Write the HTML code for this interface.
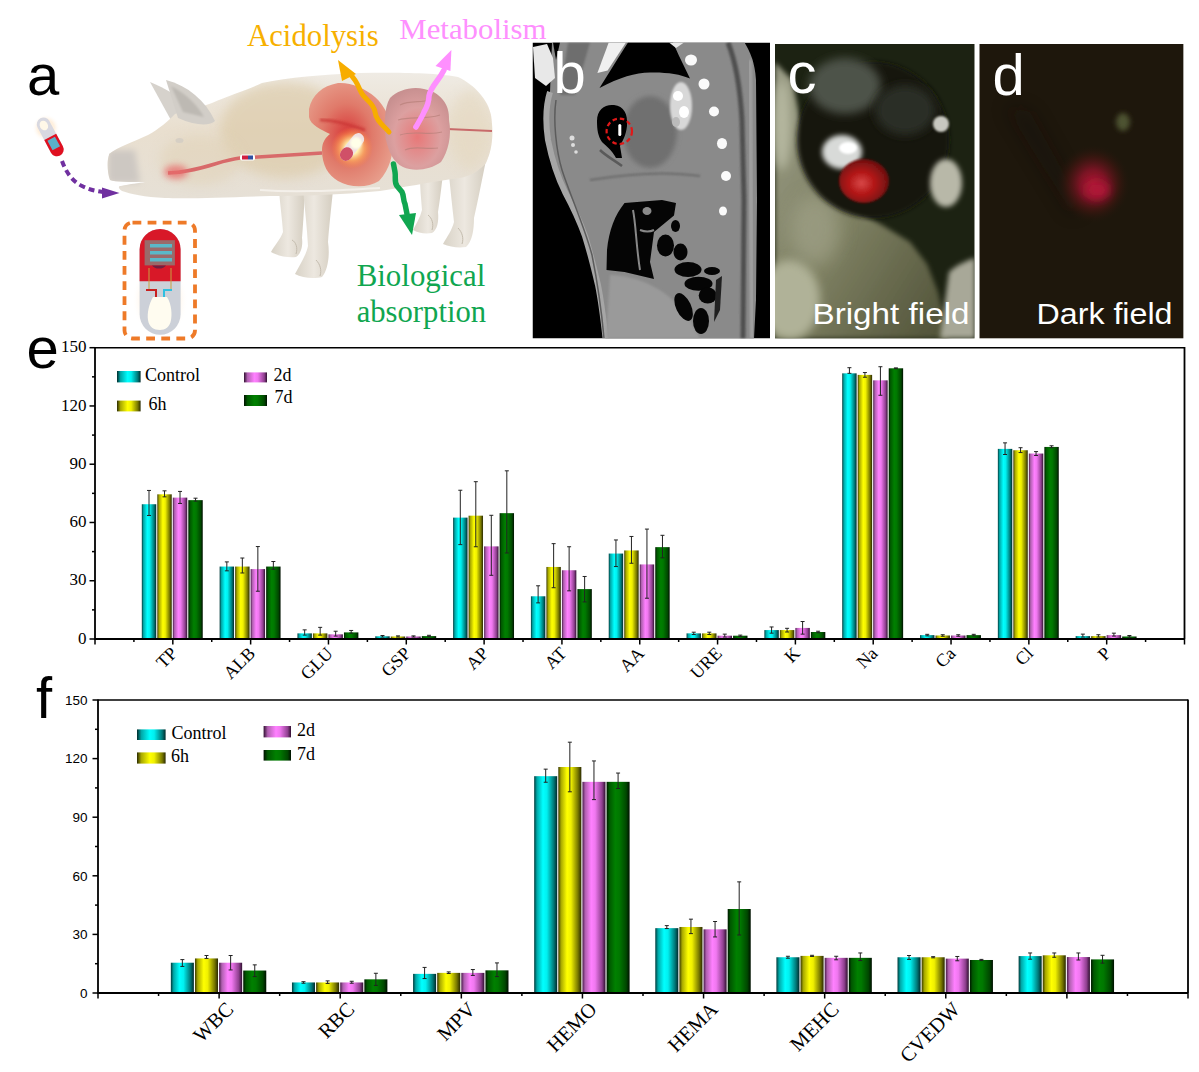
<!DOCTYPE html>
<html><head><meta charset="utf-8"><style>
html,body{margin:0;padding:0;background:#fff;overflow:hidden;}
svg{display:block;}
</style></head><body>
<svg width="1199" height="1072" viewBox="0 0 1199 1072">
<defs>
<linearGradient id="barc" x1="0" x2="1" y1="0" y2="0"><stop offset="0" stop-color="#003a3a"/><stop offset="0.12" stop-color="#00a8a8"/><stop offset="0.38" stop-color="#00ffff"/><stop offset="0.55" stop-color="#00f0f0"/><stop offset="0.85" stop-color="#007878"/><stop offset="1" stop-color="#002a2a"/></linearGradient><linearGradient id="legc" x1="0" x2="1" y1="0" y2="0"><stop offset="0" stop-color="#002a2a"/><stop offset="0.15" stop-color="#00a8a8"/><stop offset="0.45" stop-color="#00ffff"/><stop offset="0.6" stop-color="#00f0f0"/><stop offset="0.88" stop-color="#007878"/><stop offset="1" stop-color="#002a2a"/></linearGradient><linearGradient id="bary" x1="0" x2="1" y1="0" y2="0"><stop offset="0" stop-color="#3a3a00"/><stop offset="0.12" stop-color="#a8a800"/><stop offset="0.38" stop-color="#ffff00"/><stop offset="0.55" stop-color="#f0f000"/><stop offset="0.85" stop-color="#787800"/><stop offset="1" stop-color="#2a2a00"/></linearGradient><linearGradient id="legy" x1="0" x2="1" y1="0" y2="0"><stop offset="0" stop-color="#2a2a00"/><stop offset="0.15" stop-color="#a8a800"/><stop offset="0.45" stop-color="#ffff00"/><stop offset="0.6" stop-color="#f0f000"/><stop offset="0.88" stop-color="#787800"/><stop offset="1" stop-color="#2a2a00"/></linearGradient><linearGradient id="barp" x1="0" x2="1" y1="0" y2="0"><stop offset="0" stop-color="#4a1a4a"/><stop offset="0.12" stop-color="#b060b0"/><stop offset="0.38" stop-color="#ff80ff"/><stop offset="0.55" stop-color="#f078f0"/><stop offset="0.85" stop-color="#904090"/><stop offset="1" stop-color="#301030"/></linearGradient><linearGradient id="legp" x1="0" x2="1" y1="0" y2="0"><stop offset="0" stop-color="#301030"/><stop offset="0.15" stop-color="#b060b0"/><stop offset="0.45" stop-color="#ff80ff"/><stop offset="0.6" stop-color="#f078f0"/><stop offset="0.88" stop-color="#904090"/><stop offset="1" stop-color="#301030"/></linearGradient><linearGradient id="barg" x1="0" x2="1" y1="0" y2="0"><stop offset="0" stop-color="#001800"/><stop offset="0.12" stop-color="#005800"/><stop offset="0.38" stop-color="#008000"/><stop offset="0.55" stop-color="#007800"/><stop offset="0.85" stop-color="#004800"/><stop offset="1" stop-color="#001000"/></linearGradient><linearGradient id="legg" x1="0" x2="1" y1="0" y2="0"><stop offset="0" stop-color="#001000"/><stop offset="0.15" stop-color="#005800"/><stop offset="0.45" stop-color="#008000"/><stop offset="0.6" stop-color="#007800"/><stop offset="0.88" stop-color="#004800"/><stop offset="1" stop-color="#001000"/></linearGradient>
</defs>
<rect width="1199" height="1072" fill="#fff"/>
<defs>
<linearGradient id="pigbody" x1="0" y1="0" x2="0" y2="1">
<stop offset="0" stop-color="#efebe4"/><stop offset="0.45" stop-color="#e9dfcf"/><stop offset="1" stop-color="#e6e0d6"/></linearGradient>
<linearGradient id="pigleg" x1="0" y1="0" x2="1" y2="0">
<stop offset="0" stop-color="#d8d2c6"/><stop offset="0.5" stop-color="#ede8e0"/><stop offset="1" stop-color="#d4cdc0"/></linearGradient>
<radialGradient id="stom" cx="0.45" cy="0.5" r="0.6">
<stop offset="0" stop-color="#d83838"/><stop offset="0.5" stop-color="#e07a6a"/><stop offset="1" stop-color="#e8a08e"/></radialGradient>
<radialGradient id="intes" cx="0.5" cy="0.6" r="0.6">
<stop offset="0" stop-color="#e87878"/><stop offset="0.6" stop-color="#dca0a0"/><stop offset="1" stop-color="#c89090"/></radialGradient>
<radialGradient id="glow" cx="0.5" cy="0.5" r="0.5">
<stop offset="0" stop-color="#fffff0"/><stop offset="0.3" stop-color="#fff4b0"/><stop offset="0.6" stop-color="#ffb060" stop-opacity="0.7"/><stop offset="1" stop-color="#ff8040" stop-opacity="0"/></radialGradient>
<radialGradient id="capglow" cx="0.5" cy="0.5" r="0.5">
<stop offset="0" stop-color="#fff0d8"/><stop offset="0.6" stop-color="#ffe8cc" stop-opacity="0.6"/><stop offset="1" stop-color="#fff" stop-opacity="0"/></radialGradient>
<filter id="pblur1" x="-20%" y="-20%" width="140%" height="140%"><feGaussianBlur stdDeviation="1"/></filter>
<filter id="pblur3" x="-50%" y="-50%" width="200%" height="200%"><feGaussianBlur stdDeviation="3"/></filter>
<filter id="pblur6" x="-50%" y="-50%" width="200%" height="200%"><feGaussianBlur stdDeviation="6"/></filter>
<clipPath id="pigclip"><path id="pigpath" d="M109 154 C118 147 133 142 148 135 C159 129 168 121 175 114 L181 112 C195 110 205 105 212 103 C230 95 250 89 262 83 C290 77 320 75 360 73 C400 72 440 73 458 77 C475 85 488 100 491 115 C494 135 492 150 486 163 C478 172 470 176 460 178 C430 182 400 188 380 191 C340 195 300 196 270 196 C230 197 190 199 165 198 C145 197 130 194 122 191 C118 188 118 186 121 186 C130 184 140 183 145 182 C130 182 115 182 110 180 C107 172 107 160 109 155 Z"/></clipPath>
</defs>
<text x="27" y="94.6" style="font-family:'Liberation Sans',sans-serif;font-size:58px;fill:#000;">a</text>
<!-- legs -->
<path d="M279 190 L305 190 C304 210 303 225 302 238 C303 246 301 254 296 257 C288 258 278 256 271 252 C274 246 280 240 283 232 C282 218 280 204 279 190 Z" fill="url(#pigleg)"/>
<path d="M303 190 L333 190 C331 210 329 228 328 242 C330 255 328 270 322 277 C314 279 302 278 295 274 C299 266 306 256 308 246 C307 228 305 210 303 190 Z" fill="url(#pigleg)"/>
<path d="M420 176 L443 174 C441 190 440 200 438 212 C439 222 437 230 432 233 C425 234 418 233 413 230 C416 224 420 218 422 210 C421 198 420 188 420 176 Z" fill="url(#pigleg)"/>
<path d="M448 165 L486 160 C482 180 478 200 474 218 C474 230 472 242 466 247 C458 248 450 247 443 244 C447 237 452 230 454 222 C452 205 450 185 448 165 Z" fill="url(#pigleg)"/>
<g stroke="#c4bcae" stroke-width="1" fill="none">
<path d="M292 240 C296 242 298 248 296 254"/><path d="M316 260 C320 264 322 270 320 276"/>
<path d="M428 215 C432 218 434 224 432 230"/><path d="M458 228 C462 232 464 238 462 244"/>
</g>
<!-- ears back -->
<path d="M172 122 L150 82 C165 88 182 98 198 112 Z" fill="#d6d2cc"/>
<!-- body -->
<use href="#pigpath" fill="url(#pigbody)"/>
<g clip-path="url(#pigclip)">
<ellipse cx="285" cy="130" rx="65" ry="48" fill="#dccaa8" opacity="0.65" filter="url(#pblur6)"/>
<ellipse cx="200" cy="160" rx="40" ry="25" fill="#e0d0b4" opacity="0.5" filter="url(#pblur6)"/>
<ellipse cx="470" cy="130" rx="20" ry="40" fill="#e4d8c0" opacity="0.6" filter="url(#pblur6)"/>
<path d="M108 150 L135 150 L140 183 L108 183 Z" fill="#cdc8c2" filter="url(#pblur3)"/>
<path d="M168 173 C200 172 220 160 240 158 L322 153" stroke="#d86a6a" stroke-width="3.5" fill="none"/>
<ellipse cx="176" cy="172" rx="12" ry="7" fill="#e86a6a" opacity="0.75" filter="url(#pblur3)"/>
<path d="M447 129 L492 131" stroke="#c86a6a" stroke-width="2" fill="none"/>
<path d="M260 190 C300 193 340 190 380 188" stroke="#f4f0ea" stroke-width="2" fill="none"/>
</g>
<!-- front ear -->
<path d="M178 118 L166 80 C188 86 205 100 215 121 C210 126 196 126 178 118 Z" fill="#d2cec8"/>
<path d="M183 112 L171 86 C187 94 198 106 204 117 Z" fill="#bdb9b3" filter="url(#pblur1)"/>
<ellipse cx="179.5" cy="140.5" rx="4" ry="2.5" fill="#d6cfc4"/>
<!-- small capsule on esophagus -->
<rect x="240" y="154.5" width="15" height="6" rx="2" fill="#fff"/>
<rect x="242" y="155.5" width="6" height="4" fill="#d02040"/>
<rect x="248" y="155.5" width="5" height="4" fill="#3050a0"/>
<!-- stomach -->
<path d="M309 109 C312 95 322 86 338 83 C350 82 365 88 375 97 C385 106 392 120 393 138 C394 152 390 170 379 181 C368 188 350 188 338 181 C328 175 322 165 322 150 C322 142 326 137 330 134 C322 130 310 125 309 117 Z" fill="url(#stom)"/>
<path d="M320 120 C335 120 350 125 365 130" stroke="#c83030" stroke-width="3" fill="none" filter="url(#pblur1)" opacity="0.7"/>
<!-- intestines -->
<path d="M390 98 C398 90 412 86 424 89 C440 92 450 104 449 120 C452 136 448 152 441 162 C430 170 414 172 403 167 C393 162 389 152 386 140 C384 125 384 108 390 98 Z" fill="url(#intes)"/>
<g stroke="#b8807a" stroke-width="1.2" fill="none" opacity="0.7">
<path d="M400 105 C410 100 420 103 430 100"/><path d="M398 120 C410 116 425 120 440 115"/><path d="M400 135 C415 130 428 136 442 132"/><path d="M405 150 C415 145 425 150 438 148"/>
</g>
<!-- glowing capsule -->
<circle cx="352" cy="148" r="21" fill="url(#glow)"/>
<rect x="336" y="141" width="32" height="12" rx="6" fill="#f0e0e0" transform="rotate(-52 352 147)"/>
<rect x="336" y="141" width="14" height="12" rx="6" fill="#d05068" transform="rotate(-52 352 147)"/>
<circle cx="356" cy="143" r="6" fill="#ffffe8" filter="url(#pblur1)"/>
<!-- arrows -->
<path d="M389 132 C384 126 376 121 375 112 C374 103 364 99 361 92 C358 86 357 81 350 74" stroke="#f7ad00" stroke-width="5" fill="none" stroke-linecap="round"/>
<path d="M338 60 L342 81 L356 74 Z" fill="#f7ad00"/>
<path d="M415.9 127 C420 120 423 115 424 112 C427 107 429 103 429 96 C430 90 434 85 437 81 C440 77 442 74 444 70" stroke="#fe8ffe" stroke-width="5.5" fill="none" stroke-linecap="round"/>
<path d="M451.4 50 L435.5 66 L450.4 71 Z" fill="#fe8ffe"/>
<path d="M393.5 164 L395 172 C396 178 394 182 397 186 L402 192 C404 196 403 200 405 204 L407 214" stroke="#10a650" stroke-width="5.5" fill="none" stroke-linecap="round" stroke-linejoin="round"/>
<path d="M412 235 L399 215 L416 213 Z" fill="#10a650"/>
<!-- purple dashed arrow -->
<path d="M62 161 C66 172 72 181 82 186 C90 190 96 191 103 192" stroke="#7030a0" stroke-width="4" fill="none" stroke-dasharray="6 4"/>
<path d="M119.5 193 L102 187.5 L102 198.5 Z" fill="#7030a0"/>
<!-- small capsule -->
<circle cx="46" cy="128" r="14" fill="url(#capglow)"/>
<g transform="rotate(-28 50 137)">
<rect x="43.5" y="116" width="13.5" height="42" rx="6.75" fill="#d8d8e0"/>
<path d="M43.5 137 L57 137 L57 151.25 A6.75 6.75 0 0 1 43.5 151.25 Z" fill="#e01020"/>
<rect x="46" y="139" width="8.5" height="11" fill="#5ab0c8"/>
<ellipse cx="50" cy="124" rx="4" ry="5" fill="#fff8e8"/>
</g>
<!-- dashed box with capsule -->
<rect x="124.5" y="222.6" width="70.5" height="115.9" rx="8" fill="none" stroke="#ee7a28" stroke-width="3.8" stroke-dasharray="8.8 6.3"/>
<ellipse cx="160" cy="300" rx="28" ry="38" fill="url(#capglow)"/>
<rect x="139.6" y="228.9" width="41" height="105.8" rx="20.5" fill="#ccd0d8"/>
<path d="M139.6 281.2 L139.6 249.4 A20.5 20.5 0 0 1 180.6 249.4 L180.6 281.2 Z" fill="#d81828"/>
<rect x="144.6" y="240.2" width="30.3" height="25.2" fill="#9a6a6a"/>
<rect x="150" y="244" width="22" height="3.5" fill="#5ab8c8"/>
<rect x="150" y="251" width="22" height="3.5" fill="#5ab8c8"/>
<rect x="150" y="258" width="22" height="3.5" fill="#5ab8c8"/>
<path d="M152 265.4 A8 6 0 0 0 166 265.4 Z" fill="#702040"/>
<path d="M149 268 L149 290 M171 268 L171 290" stroke="#c8a040" stroke-width="1"/>
<path d="M146 290 L156 290 L156 298" stroke="#c82020" stroke-width="2" fill="none"/>
<path d="M172 290 L164 290 L164 298" stroke="#30c0e0" stroke-width="2" fill="none"/>
<path d="M153 297 L167 297 C172 305 172 315 171 320 C170 327 165 330 160 330 C154 330 149 327 148 320 C147 313 149 304 153 297 Z" fill="#fffcf0"/>
<!-- texts -->
<text x="247" y="45.8" textLength="131.6" lengthAdjust="spacingAndGlyphs" style="font-family:'Liberation Serif',serif;font-size:32px;fill:#f7b000;">Acidolysis</text>
<text x="399.3" y="38.9" textLength="147.2" lengthAdjust="spacingAndGlyphs" style="font-family:'Liberation Serif',serif;font-size:29px;fill:#fe8ffe;">Metabolism</text>
<text x="356.7" y="286" textLength="128.7" lengthAdjust="spacingAndGlyphs" style="font-family:'Liberation Serif',serif;font-size:31px;fill:#10a650;">Biological</text>
<text x="356.7" y="322" textLength="129.4" lengthAdjust="spacingAndGlyphs" style="font-family:'Liberation Serif',serif;font-size:31px;fill:#10a650;">absorption</text>

<defs>
<clipPath id="clipb"><rect x="532.5" y="42.5" width="237.5" height="296"/></clipPath>
<clipPath id="clipc"><rect x="775" y="44" width="199.7" height="294.6"/></clipPath>
<clipPath id="clipd"><rect x="979.3" y="44" width="204.3" height="294.6"/></clipPath>
<filter id="blur1" x="-20%" y="-20%" width="140%" height="140%"><feGaussianBlur stdDeviation="1"/></filter>
<filter id="blur2" x="-30%" y="-30%" width="160%" height="160%"><feGaussianBlur stdDeviation="2.5"/></filter>
<filter id="blur4" x="-50%" y="-50%" width="200%" height="200%"><feGaussianBlur stdDeviation="5"/></filter>
<filter id="blur8" x="-50%" y="-50%" width="200%" height="200%"><feGaussianBlur stdDeviation="9"/></filter>
<radialGradient id="redc" cx="0.45" cy="0.55" r="0.6">
<stop offset="0" stop-color="#d84848"/><stop offset="0.45" stop-color="#b01414"/><stop offset="1" stop-color="#601010"/></radialGradient>
<radialGradient id="redd" cx="0.5" cy="0.5" r="0.5">
<stop offset="0" stop-color="#a81830"/><stop offset="0.35" stop-color="#7a1424"/><stop offset="0.7" stop-color="#3e1610" stop-opacity="0.7"/><stop offset="1" stop-color="#1e170c" stop-opacity="0"/></radialGradient>
<linearGradient id="wallc" x1="0" y1="0" x2="1" y2="1">
<stop offset="0" stop-color="#9a9c86"/><stop offset="0.5" stop-color="#7e8062"/><stop offset="1" stop-color="#4e5036"/></linearGradient>
</defs>
<!-- panel b CT -->
<g clip-path="url(#clipb)">
<rect x="532.5" y="42.5" width="237.5" height="296" fill="#000"/>
<path d="M552 42.5 L744.5 42.5 C750 52 755 62 756 80 L757 200 L756 300 L754 338.5 L605.6 338.5 C601 315 598 300 596 285 C593 268 590 252 585 236 C580 222 572 205 565 192 C558 178 552 160 548 140 C545 120 546 105 550 92 Z" fill="#8a8a8a"/>
<!-- skin band left -->
<path d="M550 92 C546 105 545 120 548 140 C552 160 558 178 565 192 C572 205 580 222 585 236 C590 252 594 268 598 285 C601 300 603 315 605.6 338.5" fill="none" stroke="#a6a6a6" stroke-width="6"/>
<path d="M556 100 C553 120 556 150 562 170 C570 195 584 225 592 255 C597 280 601 305 604 338" fill="none" stroke="#5c5c5c" stroke-width="1.5"/>
<!-- top neck darker band -->
<path d="M568 42.5 L590 42.5 L575 95 L560 95 Z" fill="#6e6e6e" filter="url(#blur1)"/>
<!-- top black gap -->
<path d="M599.5 88 L617.9 58.4 L628 42.5 L673 42.5 L679.2 56.3 L690 78.5 C680 74 665 72 650 72.5 C635 73 620 77 599.5 88 Z" fill="#000"/>
<!-- white bone streak -->
<path d="M597.4 73 L608.7 42.5 L626 42.5 L607.6 70.6 Z" fill="#f0f0f0"/>
<!-- bone blob top-left -->
<path d="M533 47 L547 44 L553 58 L555 78 L546 86 L535 78 Z" fill="#e8e8e8"/>
<path d="M553 42.5 L560 42.5 L556 60 Z" fill="#000"/>
<!-- white bone top right small -->
<path d="M669 42.5 L684 42.5 L676 48 Z" fill="#e8e8e8"/>
<!-- dark spine band right -->
<path d="M728 42.5 C735 60 740 85 742 120 L744 200 L743 338.5" fill="none" stroke="#505050" stroke-width="5" filter="url(#blur1)"/>
<path d="M750 60 L752 338" fill="none" stroke="#a0a0a0" stroke-width="4" filter="url(#blur1)"/>
<!-- stomach darker -->
<ellipse cx="650" cy="132" rx="27" ry="36" fill="#707070" filter="url(#blur2)"/>
<!-- bright speckled contrast -->
<ellipse cx="681" cy="106" rx="11" ry="24" fill="#d8d8d8" filter="url(#blur1)"/>
<ellipse cx="678" cy="96" rx="5" ry="5" fill="#fff"/>
<ellipse cx="684" cy="112" rx="5" ry="6" fill="#fff"/>
<ellipse cx="676" cy="122" rx="4" ry="5" fill="#bbb"/>
<!-- black air pocket -->
<path d="M597 121 C597 109 605 104 614 105 C624 106 628 114 627 126 C626 136 622 142 620 146 L622 158 L616 158 C612 150 606 146 602 142 C598 136 597 130 597 121 Z" fill="#000"/>
<path d="M600 150 C606 156 614 160 622 166" stroke="#5a5a5a" stroke-width="2.5" fill="none"/>
<!-- capsule -->
<rect x="618.3" y="124" width="3" height="12" rx="1.5" fill="#fff"/>
<circle cx="619.3" cy="131.3" r="12.7" fill="none" stroke="#e01818" stroke-width="2.2" stroke-dasharray="4.5 3"/>
<!-- vertebrae -->
<ellipse cx="691" cy="60" rx="6" ry="5.5" fill="#fafafa"/>
<ellipse cx="704" cy="84" rx="5.5" ry="5.5" fill="#fafafa"/>
<ellipse cx="714" cy="111.5" rx="5" ry="5" fill="#fafafa"/>
<ellipse cx="722" cy="143.5" rx="5" ry="5.5" fill="#fafafa"/>
<ellipse cx="726" cy="176" rx="5" ry="5" fill="#fafafa"/>
<ellipse cx="723" cy="211" rx="4" ry="4.5" fill="#fafafa"/>
<!-- small bright dots left -->
<circle cx="572" cy="138" r="2.5" fill="#ddd"/>
<circle cx="573" cy="145" r="2" fill="#ddd"/>
<circle cx="576" cy="152" r="1.8" fill="#ddd"/>
<!-- dark line across middle -->
<path d="M590 180 C620 175 660 170 700 176" stroke="#6a6a6a" stroke-width="2" fill="none" filter="url(#blur1)"/>
<!-- lower organ -->
<path d="M610 275 C640 276 670 290 690 320 L700 338.5 L606 338.5 Z" fill="#9a9a9a" filter="url(#blur1)"/>
<!-- lung region -->
<path d="M624.5 203 C615 215 609 230 607 250 L606.5 270 L624.5 272 L654 279 L650 262 L654 232 L674 215.5 L676 203 L662 200 Z" fill="#050505"/>
<path d="M633 210 C636 225 636 245 640 270" stroke="#888" stroke-width="2" fill="none"/>
<ellipse cx="647" cy="211" rx="4.5" ry="4" fill="#8a8a8a"/>
<path d="M640 230 C645 232 650 232 654 230" stroke="#888" stroke-width="2" fill="none"/>
<ellipse cx="665.5" cy="245.5" rx="8.5" ry="11" fill="#050505"/>
<ellipse cx="680.5" cy="252" rx="7" ry="8.5" fill="#050505"/>
<ellipse cx="675.5" cy="226" rx="4.5" ry="6" fill="#050505"/>
<ellipse cx="688" cy="269.5" rx="13.5" ry="7.5" fill="#050505"/>
<ellipse cx="698.5" cy="283.7" rx="14" ry="7" fill="#050505"/>
<ellipse cx="707.7" cy="295.5" rx="9" ry="8" fill="#050505"/>
<ellipse cx="683.6" cy="307" rx="7.5" ry="15" fill="#050505" transform="rotate(-25 683.6 307)"/>
<ellipse cx="701" cy="321" rx="8" ry="13" fill="#050505"/>
<ellipse cx="712" cy="271" rx="8" ry="4" fill="#050505"/>
<path d="M716 280 L722 276 L720 310 L714 322 Z" fill="#202020"/>
<text x="553.5" y="93.2" style="font-family:'Liberation Sans',sans-serif;font-size:58px;fill:#fff;">b</text>
</g>
<!-- panel c -->
<g clip-path="url(#clipc)">
<rect x="775" y="44" width="199.7" height="294.6" fill="#1c2212"/>
<path d="M775 62 L792 80 L801 124 L812 166 L840 202 L882 225 L910 242 L927 264 L938 292 L949 338.6 L775 338.6 Z" fill="url(#wallc)" filter="url(#blur2)"/>
<ellipse cx="790" cy="300" rx="30" ry="40" fill="#b0b298" filter="url(#blur4)"/>
<ellipse cx="782" cy="125" rx="9" ry="45" fill="#b4b69e" filter="url(#blur4)"/>
<ellipse cx="815" cy="230" rx="25" ry="35" fill="#a0a288" opacity="0.7" filter="url(#blur8)"/>
<ellipse cx="873" cy="140" rx="76" ry="78" fill="#141510" filter="url(#blur2)"/>
<ellipse cx="845" cy="86" rx="36" ry="28" fill="#4e524a" filter="url(#blur4)"/>
<ellipse cx="905" cy="110" rx="30" ry="25" fill="#2a2e26" filter="url(#blur4)"/>
<ellipse cx="842" cy="152" rx="20" ry="17" fill="#d8dad8" filter="url(#blur2)"/>
<ellipse cx="848" cy="148" rx="9" ry="6" fill="#fff" filter="url(#blur1)"/>
<ellipse cx="864" cy="181" rx="25" ry="22" fill="url(#redc)" filter="url(#blur1)"/>
<ellipse cx="946" cy="183" rx="16" ry="24" fill="#b8b8a8" filter="url(#blur2)"/>
<ellipse cx="941" cy="124" rx="8" ry="8" fill="#c8c8c0" filter="url(#blur1)"/>
<path d="M949 272 C960 262 975 258 975 258 L975 338.6 L940 338.6 Z" fill="#a8a898" filter="url(#blur2)"/>
<text x="787.5" y="93" style="font-family:'Liberation Sans',sans-serif;font-size:58px;fill:#fff;">c</text>
<text x="812.5" y="323.7" textLength="157" lengthAdjust="spacingAndGlyphs" style="font-family:'Liberation Sans',sans-serif;font-size:29px;fill:#fff;">Bright field</text>
</g>
<!-- panel d -->
<g clip-path="url(#clipd)">
<rect x="979.3" y="44" width="204.3" height="294.6" fill="#1e170c"/>
<path d="M1005 105 L1030 112 L1082 205 L1072 215 Z" fill="#150f08" opacity="0.4" filter="url(#blur8)"/>
<ellipse cx="1093" cy="184" rx="38" ry="40" fill="url(#redd)"/>
<ellipse cx="1097" cy="190" rx="12" ry="9" fill="#b01838" filter="url(#blur4)"/>
<ellipse cx="1123" cy="122" rx="7" ry="9" fill="#4e5230" filter="url(#blur2)"/>
<text x="992.6" y="94.6" style="font-family:'Liberation Sans',sans-serif;font-size:58px;fill:#fff;">d</text>
<text x="1036.5" y="323.7" textLength="136" lengthAdjust="spacingAndGlyphs" style="font-family:'Liberation Sans',sans-serif;font-size:29px;fill:#fff;">Dark field</text>
</g>

<rect x="141.81" y="504.23" width="14.41" height="134.77" fill="url(#barc)"/>
<rect x="157.32" y="494.32" width="14.41" height="144.68" fill="url(#bary)"/>
<rect x="172.82" y="497.62" width="14.41" height="141.38" fill="url(#barp)"/>
<rect x="188.33" y="500.15" width="14.41" height="138.85" fill="url(#barg)"/>
<path d="M149.01 490.44V515.49M147.01 490.44H151.01M147.01 515.49H151.01" stroke="#222" stroke-width="1" fill="none"/>
<path d="M164.52 490.83V496.85M162.52 490.83H166.52M162.52 496.85H166.52" stroke="#222" stroke-width="1" fill="none"/>
<path d="M180.02 491.41V503.45M178.02 491.41H182.02M178.02 503.45H182.02" stroke="#222" stroke-width="1" fill="none"/>
<path d="M195.53 498.20V501.12M193.53 498.20H197.53M193.53 501.12H197.53" stroke="#222" stroke-width="1" fill="none"/>
<rect x="219.63" y="566.56" width="14.41" height="72.44" fill="url(#barc)"/>
<rect x="235.14" y="566.56" width="14.41" height="72.44" fill="url(#bary)"/>
<rect x="250.64" y="569.09" width="14.41" height="69.91" fill="url(#barp)"/>
<rect x="266.15" y="566.56" width="14.41" height="72.44" fill="url(#barg)"/>
<path d="M226.83 561.90V570.84M224.83 561.90H228.83M224.83 570.84H228.83" stroke="#222" stroke-width="1" fill="none"/>
<path d="M242.34 558.02V572.97M240.34 558.02H244.34M240.34 572.97H244.34" stroke="#222" stroke-width="1" fill="none"/>
<path d="M257.85 546.56V591.23M255.85 546.56H259.85M255.85 591.23H259.85" stroke="#222" stroke-width="1" fill="none"/>
<path d="M273.35 561.51V569.28M271.35 561.51H275.35M271.35 569.28H275.35" stroke="#222" stroke-width="1" fill="none"/>
<rect x="297.45" y="633.37" width="14.41" height="5.63" fill="url(#barc)"/>
<rect x="312.96" y="633.37" width="14.41" height="5.63" fill="url(#bary)"/>
<rect x="328.46" y="634.34" width="14.41" height="4.66" fill="url(#barp)"/>
<rect x="343.97" y="632.40" width="14.41" height="6.60" fill="url(#barg)"/>
<path d="M304.66 629.87V635.12M302.66 629.87H306.66M302.66 635.12H306.66" stroke="#222" stroke-width="1" fill="none"/>
<path d="M320.16 627.35V635.12M318.16 627.35H322.16M318.16 635.12H322.16" stroke="#222" stroke-width="1" fill="none"/>
<path d="M335.67 631.23V636.09M333.67 631.23H337.67M333.67 636.09H337.67" stroke="#222" stroke-width="1" fill="none"/>
<path d="M351.17 630.46V633.17M349.17 630.46H353.17M349.17 633.17H353.17" stroke="#222" stroke-width="1" fill="none"/>
<rect x="375.27" y="636.28" width="14.41" height="2.72" fill="url(#barc)"/>
<rect x="390.78" y="636.48" width="14.41" height="2.52" fill="url(#bary)"/>
<rect x="406.29" y="636.48" width="14.41" height="2.52" fill="url(#barp)"/>
<rect x="421.79" y="636.09" width="14.41" height="2.91" fill="url(#barg)"/>
<path d="M382.48 635.50V637.06M380.48 635.50H384.48M380.48 637.06H384.48" stroke="#222" stroke-width="1" fill="none"/>
<path d="M397.98 635.89V637.06M395.98 635.89H399.98M395.98 637.06H399.98" stroke="#222" stroke-width="1" fill="none"/>
<path d="M413.49 635.89V637.06M411.49 635.89H415.49M411.49 637.06H415.49" stroke="#222" stroke-width="1" fill="none"/>
<path d="M428.99 635.31V636.67M426.99 635.31H430.99M426.99 636.67H430.99" stroke="#222" stroke-width="1" fill="none"/>
<rect x="453.10" y="517.62" width="14.41" height="121.38" fill="url(#barc)"/>
<rect x="468.60" y="515.68" width="14.41" height="123.32" fill="url(#bary)"/>
<rect x="484.11" y="546.37" width="14.41" height="92.63" fill="url(#barp)"/>
<rect x="499.61" y="513.16" width="14.41" height="125.84" fill="url(#barg)"/>
<path d="M460.30 490.24V544.62M458.30 490.24H462.30M458.30 544.62H462.30" stroke="#222" stroke-width="1" fill="none"/>
<path d="M475.80 481.70V546.75M473.80 481.70H477.80M473.80 546.75H477.80" stroke="#222" stroke-width="1" fill="none"/>
<path d="M491.31 515.29V575.30M489.31 515.29H493.31M489.31 575.30H493.31" stroke="#222" stroke-width="1" fill="none"/>
<path d="M506.82 470.82V552.97M504.82 470.82H508.82M504.82 552.97H508.82" stroke="#222" stroke-width="1" fill="none"/>
<rect x="530.92" y="596.28" width="14.41" height="42.72" fill="url(#barc)"/>
<rect x="546.42" y="566.95" width="14.41" height="72.05" fill="url(#bary)"/>
<rect x="561.93" y="570.25" width="14.41" height="68.75" fill="url(#barp)"/>
<rect x="577.43" y="589.09" width="14.41" height="49.91" fill="url(#barg)"/>
<path d="M538.12 585.79V602.88M536.12 585.79H540.12M536.12 602.88H540.12" stroke="#222" stroke-width="1" fill="none"/>
<path d="M553.63 543.65V587.73M551.63 543.65H555.63M551.63 587.73H555.63" stroke="#222" stroke-width="1" fill="none"/>
<path d="M569.13 546.75V590.84M567.13 546.75H571.13M567.13 590.84H571.13" stroke="#222" stroke-width="1" fill="none"/>
<path d="M584.64 576.47V601.91M582.64 576.47H586.64M582.64 601.91H586.64" stroke="#222" stroke-width="1" fill="none"/>
<rect x="608.74" y="553.55" width="14.41" height="85.45" fill="url(#barc)"/>
<rect x="624.24" y="550.44" width="14.41" height="88.56" fill="url(#bary)"/>
<rect x="639.75" y="564.43" width="14.41" height="74.57" fill="url(#barp)"/>
<rect x="655.26" y="547.14" width="14.41" height="91.86" fill="url(#barg)"/>
<path d="M615.94 539.96V566.56M613.94 539.96H617.94M613.94 566.56H617.94" stroke="#222" stroke-width="1" fill="none"/>
<path d="M631.45 536.46V563.26M629.45 536.46H633.45M629.45 563.26H633.45" stroke="#222" stroke-width="1" fill="none"/>
<path d="M646.95 529.08V598.22M644.95 529.08H648.95M644.95 598.22H648.95" stroke="#222" stroke-width="1" fill="none"/>
<path d="M662.46 535.30V557.82M660.46 535.30H664.46M660.46 557.82H664.46" stroke="#222" stroke-width="1" fill="none"/>
<rect x="686.56" y="633.37" width="14.41" height="5.63" fill="url(#barc)"/>
<rect x="702.07" y="633.37" width="14.41" height="5.63" fill="url(#bary)"/>
<rect x="717.57" y="635.70" width="14.41" height="3.30" fill="url(#barp)"/>
<rect x="733.08" y="635.70" width="14.41" height="3.30" fill="url(#barg)"/>
<path d="M693.76 632.20V634.53M691.76 632.20H695.76M691.76 634.53H695.76" stroke="#222" stroke-width="1" fill="none"/>
<path d="M709.27 632.20V634.53M707.27 632.20H711.27M707.27 634.53H711.27" stroke="#222" stroke-width="1" fill="none"/>
<path d="M724.77 634.14V637.06M722.77 634.14H726.77M722.77 637.06H726.77" stroke="#222" stroke-width="1" fill="none"/>
<path d="M740.28 635.12V636.48M738.28 635.12H742.28M738.28 636.48H742.28" stroke="#222" stroke-width="1" fill="none"/>
<rect x="764.38" y="630.07" width="14.41" height="8.93" fill="url(#barc)"/>
<rect x="779.89" y="630.07" width="14.41" height="8.93" fill="url(#bary)"/>
<rect x="795.39" y="627.93" width="14.41" height="11.07" fill="url(#barp)"/>
<rect x="810.90" y="632.01" width="14.41" height="6.99" fill="url(#barg)"/>
<path d="M771.58 626.96V633.17M769.58 626.96H773.58M769.58 633.17H773.58" stroke="#222" stroke-width="1" fill="none"/>
<path d="M787.09 628.32V632.01M785.09 628.32H789.09M785.09 632.01H789.09" stroke="#222" stroke-width="1" fill="none"/>
<path d="M802.60 621.52V634.14M800.60 621.52H804.60M800.60 634.14H804.60" stroke="#222" stroke-width="1" fill="none"/>
<path d="M818.10 631.23V632.79M816.10 631.23H820.10M816.10 632.79H820.10" stroke="#222" stroke-width="1" fill="none"/>
<rect x="842.20" y="373.33" width="14.41" height="265.67" fill="url(#barc)"/>
<rect x="857.71" y="374.89" width="14.41" height="264.11" fill="url(#bary)"/>
<rect x="873.21" y="380.33" width="14.41" height="258.67" fill="url(#barp)"/>
<rect x="888.72" y="368.29" width="14.41" height="270.71" fill="url(#barg)"/>
<path d="M849.41 367.70V373.33M847.41 367.70H851.41M847.41 373.33H851.41" stroke="#222" stroke-width="1" fill="none"/>
<path d="M864.91 372.56V377.22M862.91 372.56H866.91M862.91 377.22H866.91" stroke="#222" stroke-width="1" fill="none"/>
<path d="M880.42 366.73V395.28M878.42 366.73H882.42M878.42 395.28H882.42" stroke="#222" stroke-width="1" fill="none"/>
<path d="M895.92 367.90V368.67M893.92 367.90H897.92M893.92 368.67H897.92" stroke="#222" stroke-width="1" fill="none"/>
<rect x="920.02" y="635.12" width="14.41" height="3.88" fill="url(#barc)"/>
<rect x="935.53" y="635.50" width="14.41" height="3.50" fill="url(#bary)"/>
<rect x="951.04" y="635.50" width="14.41" height="3.50" fill="url(#barp)"/>
<rect x="966.54" y="635.12" width="14.41" height="3.88" fill="url(#barg)"/>
<path d="M927.23 634.34V635.89M925.23 634.34H929.23M925.23 635.89H929.23" stroke="#222" stroke-width="1" fill="none"/>
<path d="M942.73 634.73V636.28M940.73 634.73H944.73M940.73 636.28H944.73" stroke="#222" stroke-width="1" fill="none"/>
<path d="M958.24 634.73V636.28M956.24 634.73H960.24M956.24 636.28H960.24" stroke="#222" stroke-width="1" fill="none"/>
<path d="M973.74 634.34V635.89M971.74 634.34H975.74M971.74 635.89H975.74" stroke="#222" stroke-width="1" fill="none"/>
<rect x="997.85" y="448.88" width="14.41" height="190.12" fill="url(#barc)"/>
<rect x="1013.35" y="450.24" width="14.41" height="188.76" fill="url(#bary)"/>
<rect x="1028.86" y="453.54" width="14.41" height="185.46" fill="url(#barp)"/>
<rect x="1044.36" y="446.94" width="14.41" height="192.06" fill="url(#barg)"/>
<path d="M1005.05 442.86V454.51M1003.05 442.86H1007.05M1003.05 454.51H1007.05" stroke="#222" stroke-width="1" fill="none"/>
<path d="M1020.55 447.71V452.57M1018.55 447.71H1022.55M1018.55 452.57H1022.55" stroke="#222" stroke-width="1" fill="none"/>
<path d="M1036.06 451.60V455.48M1034.06 451.60H1038.06M1034.06 455.48H1038.06" stroke="#222" stroke-width="1" fill="none"/>
<path d="M1051.57 445.77V447.71M1049.57 445.77H1053.57M1049.57 447.71H1053.57" stroke="#222" stroke-width="1" fill="none"/>
<rect x="1075.67" y="636.09" width="14.41" height="2.91" fill="url(#barc)"/>
<rect x="1091.17" y="636.09" width="14.41" height="2.91" fill="url(#bary)"/>
<rect x="1106.68" y="635.12" width="14.41" height="3.88" fill="url(#barp)"/>
<rect x="1122.18" y="636.48" width="14.41" height="2.52" fill="url(#barg)"/>
<path d="M1082.87 634.14V637.06M1080.87 634.14H1084.87M1080.87 637.06H1084.87" stroke="#222" stroke-width="1" fill="none"/>
<path d="M1098.38 634.73V637.06M1096.38 634.73H1100.38M1096.38 637.06H1100.38" stroke="#222" stroke-width="1" fill="none"/>
<path d="M1113.88 633.17V636.09M1111.88 633.17H1115.88M1111.88 636.09H1115.88" stroke="#222" stroke-width="1" fill="none"/>
<path d="M1129.39 635.50V637.06M1127.39 635.50H1131.39M1127.39 637.06H1131.39" stroke="#222" stroke-width="1" fill="none"/>
<path d="M95 347.7H1184.5" stroke="#000" stroke-width="1.35" fill="none"/>
<path d="M95 347.09999999999997V639H1184.5M1184.5 347.09999999999997V639" stroke="#000" stroke-width="1.8" fill="none"/>
<line x1="89.5" y1="639.00" x2="95" y2="639.00" stroke="#000" stroke-width="1.5"/>
<text x="86.5" y="643.60" text-anchor="end" style="font-family:'Liberation Serif',serif;font-size:17px;fill:#000;">0</text>
<line x1="92" y1="609.87" x2="95" y2="609.87" stroke="#000" stroke-width="1.5"/>
<line x1="89.5" y1="580.74" x2="95" y2="580.74" stroke="#000" stroke-width="1.5"/>
<text x="86.5" y="585.34" text-anchor="end" style="font-family:'Liberation Serif',serif;font-size:17px;fill:#000;">30</text>
<line x1="92" y1="551.61" x2="95" y2="551.61" stroke="#000" stroke-width="1.5"/>
<line x1="89.5" y1="522.48" x2="95" y2="522.48" stroke="#000" stroke-width="1.5"/>
<text x="86.5" y="527.08" text-anchor="end" style="font-family:'Liberation Serif',serif;font-size:17px;fill:#000;">60</text>
<line x1="92" y1="493.35" x2="95" y2="493.35" stroke="#000" stroke-width="1.5"/>
<line x1="89.5" y1="464.22" x2="95" y2="464.22" stroke="#000" stroke-width="1.5"/>
<text x="86.5" y="468.82" text-anchor="end" style="font-family:'Liberation Serif',serif;font-size:17px;fill:#000;">90</text>
<line x1="92" y1="435.09" x2="95" y2="435.09" stroke="#000" stroke-width="1.5"/>
<line x1="89.5" y1="405.96" x2="95" y2="405.96" stroke="#000" stroke-width="1.5"/>
<text x="86.5" y="410.56" text-anchor="end" style="font-family:'Liberation Serif',serif;font-size:17px;fill:#000;">120</text>
<line x1="92" y1="376.83" x2="95" y2="376.83" stroke="#000" stroke-width="1.5"/>
<line x1="89.5" y1="347.70" x2="95" y2="347.70" stroke="#000" stroke-width="1.5"/>
<text x="86.5" y="352.30" text-anchor="end" style="font-family:'Liberation Serif',serif;font-size:17px;fill:#000;">150</text>
<line x1="95.00" y1="639" x2="95.00" y2="644.5" stroke="#000" stroke-width="1.5"/>
<line x1="133.91" y1="639" x2="133.91" y2="642" stroke="#000" stroke-width="1.5"/>
<line x1="172.82" y1="639" x2="172.82" y2="644.5" stroke="#000" stroke-width="1.5"/>
<line x1="211.73" y1="639" x2="211.73" y2="642" stroke="#000" stroke-width="1.5"/>
<line x1="250.64" y1="639" x2="250.64" y2="644.5" stroke="#000" stroke-width="1.5"/>
<line x1="289.55" y1="639" x2="289.55" y2="642" stroke="#000" stroke-width="1.5"/>
<line x1="328.46" y1="639" x2="328.46" y2="644.5" stroke="#000" stroke-width="1.5"/>
<line x1="367.38" y1="639" x2="367.38" y2="642" stroke="#000" stroke-width="1.5"/>
<line x1="406.29" y1="639" x2="406.29" y2="644.5" stroke="#000" stroke-width="1.5"/>
<line x1="445.20" y1="639" x2="445.20" y2="642" stroke="#000" stroke-width="1.5"/>
<line x1="484.11" y1="639" x2="484.11" y2="644.5" stroke="#000" stroke-width="1.5"/>
<line x1="523.02" y1="639" x2="523.02" y2="642" stroke="#000" stroke-width="1.5"/>
<line x1="561.93" y1="639" x2="561.93" y2="644.5" stroke="#000" stroke-width="1.5"/>
<line x1="600.84" y1="639" x2="600.84" y2="642" stroke="#000" stroke-width="1.5"/>
<line x1="639.75" y1="639" x2="639.75" y2="644.5" stroke="#000" stroke-width="1.5"/>
<line x1="678.66" y1="639" x2="678.66" y2="642" stroke="#000" stroke-width="1.5"/>
<line x1="717.57" y1="639" x2="717.57" y2="644.5" stroke="#000" stroke-width="1.5"/>
<line x1="756.48" y1="639" x2="756.48" y2="642" stroke="#000" stroke-width="1.5"/>
<line x1="795.39" y1="639" x2="795.39" y2="644.5" stroke="#000" stroke-width="1.5"/>
<line x1="834.30" y1="639" x2="834.30" y2="642" stroke="#000" stroke-width="1.5"/>
<line x1="873.21" y1="639" x2="873.21" y2="644.5" stroke="#000" stroke-width="1.5"/>
<line x1="912.12" y1="639" x2="912.12" y2="642" stroke="#000" stroke-width="1.5"/>
<line x1="951.04" y1="639" x2="951.04" y2="644.5" stroke="#000" stroke-width="1.5"/>
<line x1="989.95" y1="639" x2="989.95" y2="642" stroke="#000" stroke-width="1.5"/>
<line x1="1028.86" y1="639" x2="1028.86" y2="644.5" stroke="#000" stroke-width="1.5"/>
<line x1="1067.77" y1="639" x2="1067.77" y2="642" stroke="#000" stroke-width="1.5"/>
<line x1="1106.68" y1="639" x2="1106.68" y2="644.5" stroke="#000" stroke-width="1.5"/>
<line x1="1145.59" y1="639" x2="1145.59" y2="642" stroke="#000" stroke-width="1.5"/>
<line x1="1184.50" y1="639" x2="1184.50" y2="644.5" stroke="#000" stroke-width="1.5"/>
<text x="178.32" y="654.50" text-anchor="end" transform="rotate(-45 178.32 654.50)" style="font-family:'Liberation Serif',serif;font-size:18px;fill:#000;">TP</text>
<text x="256.14" y="654.50" text-anchor="end" transform="rotate(-45 256.14 654.50)" style="font-family:'Liberation Serif',serif;font-size:18px;fill:#000;">ALB</text>
<text x="333.96" y="654.50" text-anchor="end" transform="rotate(-45 333.96 654.50)" style="font-family:'Liberation Serif',serif;font-size:18px;fill:#000;">GLU</text>
<text x="411.79" y="654.50" text-anchor="end" transform="rotate(-45 411.79 654.50)" style="font-family:'Liberation Serif',serif;font-size:18px;fill:#000;">GSP</text>
<text x="489.61" y="654.50" text-anchor="end" transform="rotate(-45 489.61 654.50)" style="font-family:'Liberation Serif',serif;font-size:18px;fill:#000;">AP</text>
<text x="567.43" y="654.50" text-anchor="end" transform="rotate(-45 567.43 654.50)" style="font-family:'Liberation Serif',serif;font-size:18px;fill:#000;">AT</text>
<text x="645.25" y="654.50" text-anchor="end" transform="rotate(-45 645.25 654.50)" style="font-family:'Liberation Serif',serif;font-size:18px;fill:#000;">AA</text>
<text x="723.07" y="654.50" text-anchor="end" transform="rotate(-45 723.07 654.50)" style="font-family:'Liberation Serif',serif;font-size:18px;fill:#000;">URE</text>
<text x="800.89" y="654.50" text-anchor="end" transform="rotate(-45 800.89 654.50)" style="font-family:'Liberation Serif',serif;font-size:18px;fill:#000;">K</text>
<text x="878.71" y="654.50" text-anchor="end" transform="rotate(-45 878.71 654.50)" style="font-family:'Liberation Serif',serif;font-size:18px;fill:#000;">Na</text>
<text x="956.54" y="654.50" text-anchor="end" transform="rotate(-45 956.54 654.50)" style="font-family:'Liberation Serif',serif;font-size:18px;fill:#000;">Ca</text>
<text x="1034.36" y="654.50" text-anchor="end" transform="rotate(-45 1034.36 654.50)" style="font-family:'Liberation Serif',serif;font-size:18px;fill:#000;">Cl</text>
<text x="1112.18" y="654.50" text-anchor="end" transform="rotate(-45 1112.18 654.50)" style="font-family:'Liberation Serif',serif;font-size:18px;fill:#000;">P</text>
<rect x="117" y="371" width="23.6" height="11.4" fill="url(#legc)"/>
<text x="145" y="380.6" style="font-family:'Liberation Serif',serif;font-size:18px;fill:#000;">Control</text>
<rect x="117" y="400.6" width="23.6" height="10.8" fill="url(#legy)"/>
<text x="148.6" y="410" style="font-family:'Liberation Serif',serif;font-size:18px;fill:#000;">6h</text>
<rect x="244" y="372.4" width="23" height="10" fill="url(#legp)"/>
<text x="273.6" y="381" style="font-family:'Liberation Serif',serif;font-size:18px;fill:#000;">2d</text>
<rect x="244" y="395" width="23" height="11" fill="url(#legg)"/>
<text x="274.6" y="403.4" style="font-family:'Liberation Serif',serif;font-size:18px;fill:#000;">7d</text>
<rect x="170.85" y="962.72" width="23.03" height="30.28" fill="url(#barc)"/>
<rect x="194.98" y="958.43" width="23.03" height="34.57" fill="url(#bary)"/>
<rect x="219.11" y="962.72" width="23.03" height="30.28" fill="url(#barp)"/>
<rect x="243.24" y="970.54" width="23.03" height="22.46" fill="url(#barg)"/>
<path d="M182.36 959.60V966.43M180.36 959.60H184.36M180.36 966.43H184.36" stroke="#222" stroke-width="1" fill="none"/>
<path d="M206.50 955.50V958.43M204.50 955.50H208.50M204.50 958.43H208.50" stroke="#222" stroke-width="1" fill="none"/>
<path d="M230.63 955.50V969.95M228.63 955.50H232.63M228.63 969.95H232.63" stroke="#222" stroke-width="1" fill="none"/>
<path d="M254.76 964.87V976.59M252.76 964.87H256.76M252.76 976.59H256.76" stroke="#222" stroke-width="1" fill="none"/>
<rect x="291.96" y="982.45" width="23.03" height="10.55" fill="url(#barc)"/>
<rect x="316.09" y="982.45" width="23.03" height="10.55" fill="url(#bary)"/>
<rect x="340.22" y="982.45" width="23.03" height="10.55" fill="url(#barp)"/>
<rect x="364.35" y="979.33" width="23.03" height="13.67" fill="url(#barg)"/>
<path d="M303.48 981.67V983.23M301.48 981.67H305.48M301.48 983.23H305.48" stroke="#222" stroke-width="1" fill="none"/>
<path d="M327.61 980.89V983.43M325.61 980.89H329.61M325.61 983.43H329.61" stroke="#222" stroke-width="1" fill="none"/>
<path d="M351.74 981.28V983.23M349.74 981.28H353.74M349.74 983.23H353.74" stroke="#222" stroke-width="1" fill="none"/>
<path d="M375.87 973.27V985.38M373.87 973.27H377.87M373.87 985.38H377.87" stroke="#222" stroke-width="1" fill="none"/>
<rect x="413.07" y="973.86" width="23.03" height="19.14" fill="url(#barc)"/>
<rect x="437.20" y="972.88" width="23.03" height="20.12" fill="url(#bary)"/>
<rect x="461.33" y="972.88" width="23.03" height="20.12" fill="url(#barp)"/>
<rect x="485.46" y="970.34" width="23.03" height="22.66" fill="url(#barg)"/>
<path d="M424.59 967.41V978.55M422.59 967.41H426.59M422.59 978.55H426.59" stroke="#222" stroke-width="1" fill="none"/>
<path d="M448.72 971.90V973.47M446.72 971.90H450.72M446.72 973.47H450.72" stroke="#222" stroke-width="1" fill="none"/>
<path d="M472.85 969.56V975.42M470.85 969.56H474.85M470.85 975.42H474.85" stroke="#222" stroke-width="1" fill="none"/>
<path d="M496.98 962.92V976.59M494.98 962.92H498.98M494.98 976.59H498.98" stroke="#222" stroke-width="1" fill="none"/>
<rect x="534.18" y="776.18" width="23.03" height="216.82" fill="url(#barc)"/>
<rect x="558.31" y="767.00" width="23.03" height="226.00" fill="url(#bary)"/>
<rect x="582.44" y="781.84" width="23.03" height="211.16" fill="url(#barp)"/>
<rect x="606.58" y="781.84" width="23.03" height="211.16" fill="url(#barg)"/>
<path d="M545.70 769.15V782.24M543.70 769.15H547.70M543.70 782.24H547.70" stroke="#222" stroke-width="1" fill="none"/>
<path d="M569.83 742.19V791.81M567.83 742.19H571.83M567.83 791.81H571.83" stroke="#222" stroke-width="1" fill="none"/>
<path d="M593.96 760.94V799.62M591.96 760.94H595.96M591.96 799.62H595.96" stroke="#222" stroke-width="1" fill="none"/>
<path d="M618.09 773.05V788.49M616.09 773.05H620.09M616.09 788.49H620.09" stroke="#222" stroke-width="1" fill="none"/>
<rect x="655.29" y="928.15" width="23.03" height="64.85" fill="url(#barc)"/>
<rect x="679.42" y="926.98" width="23.03" height="66.02" fill="url(#bary)"/>
<rect x="703.56" y="929.32" width="23.03" height="63.68" fill="url(#barp)"/>
<rect x="727.69" y="909.01" width="23.03" height="83.99" fill="url(#barg)"/>
<path d="M666.81 925.61V928.54M664.81 925.61H668.81M664.81 928.54H668.81" stroke="#222" stroke-width="1" fill="none"/>
<path d="M690.94 919.16V933.62M688.94 919.16H692.94M688.94 933.62H692.94" stroke="#222" stroke-width="1" fill="none"/>
<path d="M715.07 921.51V936.94M713.07 921.51H717.07M713.07 936.94H717.07" stroke="#222" stroke-width="1" fill="none"/>
<path d="M739.20 881.86V934.99M737.20 881.86H741.20M737.20 934.99H741.20" stroke="#222" stroke-width="1" fill="none"/>
<rect x="776.40" y="957.25" width="23.03" height="35.75" fill="url(#barc)"/>
<rect x="800.54" y="955.89" width="23.03" height="37.11" fill="url(#bary)"/>
<rect x="824.67" y="957.84" width="23.03" height="35.16" fill="url(#barp)"/>
<rect x="848.80" y="957.84" width="23.03" height="35.16" fill="url(#barg)"/>
<path d="M787.92 956.28V958.23M785.92 956.28H789.92M785.92 958.23H789.92" stroke="#222" stroke-width="1" fill="none"/>
<path d="M812.05 955.30V956.47M810.05 955.30H814.05M810.05 956.47H814.05" stroke="#222" stroke-width="1" fill="none"/>
<path d="M836.18 956.28V959.79M834.18 956.28H838.18M834.18 959.79H838.18" stroke="#222" stroke-width="1" fill="none"/>
<path d="M860.31 952.96V960.57M858.31 952.96H862.31M858.31 960.57H862.31" stroke="#222" stroke-width="1" fill="none"/>
<rect x="897.52" y="957.25" width="23.03" height="35.75" fill="url(#barc)"/>
<rect x="921.65" y="957.25" width="23.03" height="35.75" fill="url(#bary)"/>
<rect x="945.78" y="958.62" width="23.03" height="34.38" fill="url(#barp)"/>
<rect x="969.91" y="959.99" width="23.03" height="33.01" fill="url(#barg)"/>
<path d="M909.03 955.50V959.40M907.03 955.50H911.03M907.03 959.40H911.03" stroke="#222" stroke-width="1" fill="none"/>
<path d="M933.16 956.67V957.84M931.16 956.67H935.16M931.16 957.84H935.16" stroke="#222" stroke-width="1" fill="none"/>
<path d="M957.29 956.47V960.77M955.29 956.47H959.29M955.29 960.77H959.29" stroke="#222" stroke-width="1" fill="none"/>
<path d="M981.42 959.40V960.57M979.42 959.40H983.42M979.42 960.57H983.42" stroke="#222" stroke-width="1" fill="none"/>
<rect x="1018.63" y="956.08" width="23.03" height="36.92" fill="url(#barc)"/>
<rect x="1042.76" y="955.30" width="23.03" height="37.70" fill="url(#bary)"/>
<rect x="1066.89" y="957.06" width="23.03" height="35.94" fill="url(#barp)"/>
<rect x="1091.02" y="959.40" width="23.03" height="33.60" fill="url(#barg)"/>
<path d="M1030.14 952.96V959.21M1028.14 952.96H1032.14M1028.14 959.21H1032.14" stroke="#222" stroke-width="1" fill="none"/>
<path d="M1054.27 952.96V957.25M1052.27 952.96H1056.27M1052.27 957.25H1056.27" stroke="#222" stroke-width="1" fill="none"/>
<path d="M1078.40 952.96V959.99M1076.40 952.96H1080.40M1076.40 959.99H1080.40" stroke="#222" stroke-width="1" fill="none"/>
<path d="M1102.54 955.30V963.11M1100.54 955.30H1104.54M1100.54 963.11H1104.54" stroke="#222" stroke-width="1" fill="none"/>
<path d="M98 700H1188" stroke="#000" stroke-width="1.35" fill="none"/>
<path d="M98 699.4V993H1188M1188 699.4V993" stroke="#000" stroke-width="1.8" fill="none"/>
<line x1="92.5" y1="993.00" x2="98" y2="993.00" stroke="#000" stroke-width="1.5"/>
<text x="87.5" y="997.80" text-anchor="end" style="font-family:'Liberation Sans',sans-serif;font-size:13.5px;fill:#000;">0</text>
<line x1="95" y1="963.70" x2="98" y2="963.70" stroke="#000" stroke-width="1.5"/>
<line x1="92.5" y1="934.40" x2="98" y2="934.40" stroke="#000" stroke-width="1.5"/>
<text x="87.5" y="939.20" text-anchor="end" style="font-family:'Liberation Sans',sans-serif;font-size:13.5px;fill:#000;">30</text>
<line x1="95" y1="905.10" x2="98" y2="905.10" stroke="#000" stroke-width="1.5"/>
<line x1="92.5" y1="875.80" x2="98" y2="875.80" stroke="#000" stroke-width="1.5"/>
<text x="87.5" y="880.60" text-anchor="end" style="font-family:'Liberation Sans',sans-serif;font-size:13.5px;fill:#000;">60</text>
<line x1="95" y1="846.50" x2="98" y2="846.50" stroke="#000" stroke-width="1.5"/>
<line x1="92.5" y1="817.20" x2="98" y2="817.20" stroke="#000" stroke-width="1.5"/>
<text x="87.5" y="822.00" text-anchor="end" style="font-family:'Liberation Sans',sans-serif;font-size:13.5px;fill:#000;">90</text>
<line x1="95" y1="787.90" x2="98" y2="787.90" stroke="#000" stroke-width="1.5"/>
<line x1="92.5" y1="758.60" x2="98" y2="758.60" stroke="#000" stroke-width="1.5"/>
<text x="87.5" y="763.40" text-anchor="end" style="font-family:'Liberation Sans',sans-serif;font-size:13.5px;fill:#000;">120</text>
<line x1="95" y1="729.30" x2="98" y2="729.30" stroke="#000" stroke-width="1.5"/>
<line x1="92.5" y1="700.00" x2="98" y2="700.00" stroke="#000" stroke-width="1.5"/>
<text x="87.5" y="704.80" text-anchor="end" style="font-family:'Liberation Sans',sans-serif;font-size:13.5px;fill:#000;">150</text>
<line x1="98.00" y1="993" x2="98.00" y2="998.5" stroke="#000" stroke-width="1.5"/>
<line x1="158.56" y1="993" x2="158.56" y2="996" stroke="#000" stroke-width="1.5"/>
<line x1="219.11" y1="993" x2="219.11" y2="998.5" stroke="#000" stroke-width="1.5"/>
<line x1="279.67" y1="993" x2="279.67" y2="996" stroke="#000" stroke-width="1.5"/>
<line x1="340.22" y1="993" x2="340.22" y2="998.5" stroke="#000" stroke-width="1.5"/>
<line x1="400.78" y1="993" x2="400.78" y2="996" stroke="#000" stroke-width="1.5"/>
<line x1="461.33" y1="993" x2="461.33" y2="998.5" stroke="#000" stroke-width="1.5"/>
<line x1="521.89" y1="993" x2="521.89" y2="996" stroke="#000" stroke-width="1.5"/>
<line x1="582.44" y1="993" x2="582.44" y2="998.5" stroke="#000" stroke-width="1.5"/>
<line x1="643.00" y1="993" x2="643.00" y2="996" stroke="#000" stroke-width="1.5"/>
<line x1="703.56" y1="993" x2="703.56" y2="998.5" stroke="#000" stroke-width="1.5"/>
<line x1="764.11" y1="993" x2="764.11" y2="996" stroke="#000" stroke-width="1.5"/>
<line x1="824.67" y1="993" x2="824.67" y2="998.5" stroke="#000" stroke-width="1.5"/>
<line x1="885.22" y1="993" x2="885.22" y2="996" stroke="#000" stroke-width="1.5"/>
<line x1="945.78" y1="993" x2="945.78" y2="998.5" stroke="#000" stroke-width="1.5"/>
<line x1="1006.33" y1="993" x2="1006.33" y2="996" stroke="#000" stroke-width="1.5"/>
<line x1="1066.89" y1="993" x2="1066.89" y2="998.5" stroke="#000" stroke-width="1.5"/>
<line x1="1127.44" y1="993" x2="1127.44" y2="996" stroke="#000" stroke-width="1.5"/>
<line x1="1188.00" y1="993" x2="1188.00" y2="998.5" stroke="#000" stroke-width="1.5"/>
<text x="234.61" y="1010.50" text-anchor="end" transform="rotate(-45 234.61 1010.50)" style="font-family:'Liberation Serif',serif;font-size:20.5px;fill:#000;">WBC</text>
<text x="355.72" y="1010.50" text-anchor="end" transform="rotate(-45 355.72 1010.50)" style="font-family:'Liberation Serif',serif;font-size:20.5px;fill:#000;">RBC</text>
<text x="476.83" y="1010.50" text-anchor="end" transform="rotate(-45 476.83 1010.50)" style="font-family:'Liberation Serif',serif;font-size:20.5px;fill:#000;">MPV</text>
<text x="597.94" y="1010.50" text-anchor="end" transform="rotate(-45 597.94 1010.50)" style="font-family:'Liberation Serif',serif;font-size:20.5px;fill:#000;">HEMO</text>
<text x="719.06" y="1010.50" text-anchor="end" transform="rotate(-45 719.06 1010.50)" style="font-family:'Liberation Serif',serif;font-size:20.5px;fill:#000;">HEMA</text>
<text x="840.17" y="1010.50" text-anchor="end" transform="rotate(-45 840.17 1010.50)" style="font-family:'Liberation Serif',serif;font-size:20.5px;fill:#000;">MEHC</text>
<text x="961.28" y="1010.50" text-anchor="end" transform="rotate(-45 961.28 1010.50)" style="font-family:'Liberation Serif',serif;font-size:20.5px;fill:#000;">CVEDW</text>
<rect x="137" y="729.4" width="28.6" height="10.6" fill="url(#legc)"/>
<text x="171.6" y="739" style="font-family:'Liberation Serif',serif;font-size:18px;fill:#000;">Control</text>
<rect x="137" y="752.4" width="28.6" height="11.2" fill="url(#legy)"/>
<text x="171" y="762.4" style="font-family:'Liberation Serif',serif;font-size:18px;fill:#000;">6h</text>
<rect x="263.6" y="726" width="27.4" height="11.4" fill="url(#legp)"/>
<text x="297" y="736" style="font-family:'Liberation Serif',serif;font-size:18px;fill:#000;">2d</text>
<rect x="263.6" y="750" width="27.4" height="10.6" fill="url(#legg)"/>
<text x="297" y="759.6" style="font-family:'Liberation Serif',serif;font-size:18px;fill:#000;">7d</text>
<text x="26.5" y="367.5" style="font-family:'Liberation Sans',sans-serif;font-size:58px;fill:#000;">e</text>
<text x="36" y="718" style="font-family:'Liberation Sans',sans-serif;font-size:58px;fill:#000;">f</text>
</svg>
</body></html>
